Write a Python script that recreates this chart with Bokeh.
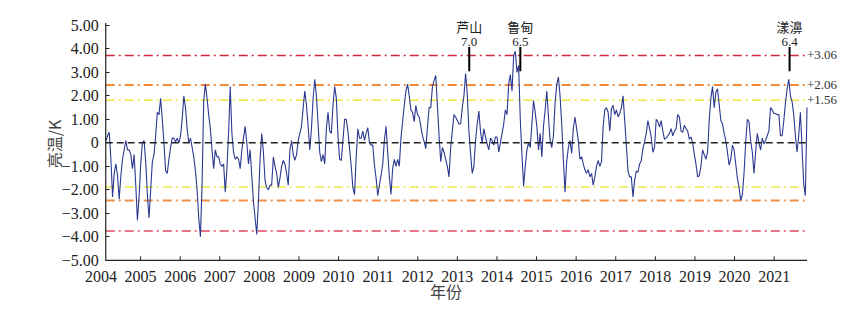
import numpy as np
from bokeh.plotting import figure
from bokeh.models import FixedTicker, Range1d
from bokeh.core.properties import value
from bokeh.embed import file_html
from bokeh.resources import INLINE

# ---------------- data ----------------
# brightness-temperature anomaly (K), semi-monthly samples
bt_2004_2008 = [
    0.1, 0.3, 0.45, -0.7, -2.3, -1.3, -0.9, -1.4, -2.4, -1.4,
    -0.7, -0.3, 0.1, -0.3, -0.3, -0.5, -1.1, -0.5, -1.8, -3.3,
    -2.3, -0.9, 0.0, 0.1, -0.8, -2.2, -3.2, -2.0, -0.8, -0.5,
    0.3, 1.3, 1.2, 1.9, 1.0, 0.0, -1.2, -1.3, -0.7, -0.2,
    0.2, 0.2, 0.05, 0.2, 0.0, 0.3, 1.0, 2.0, 1.5, 0.6,
    0.0, 0.2, -0.2, -0.6, -1.2, -2.0, -3.2, -4.0, -1.8, 1.8,
    2.5, 1.9, 1.2, 0.6, -0.3, -1.1, -0.3, -0.6, -0.6, -0.9,
    -1.0, -0.9, -2.1, -1.1, 0.4, 2.4, 0.4, -0.4, -0.7, -0.6,
    -0.7, -1.1, -0.3, 0.2, 0.7, 0.0, -0.9, -0.3, -1.4, -2.5,
    -3.2, -3.9, -2.5, -0.7, 0.4, -0.4, -1.6, -1.9, -2.0, -1.8,
    -1.8, -0.6, -1.0, -1.3, -1.9, -1.5,
]
bt_2008_2015 = [
    -1.0, -0.75, -0.9, -1.3, -1.8, -0.3, 0.1, -0.5, -0.75, -0.5,
    0.1, 0.4, 0.7, 1.5, 2.2, 1.6, 0.7, -0.3, 0.6, 1.9,
    2.7, 2.0, 0.8, -0.4, -0.8, -0.5, -0.9, 0.6, 1.3, 0.5,
    0.4, 1.6, 2.4, 1.9, 0.3, -0.7, -0.75, 0.1, 1.0, 1.0,
    0.5, -0.25, -1.0, -1.9, -2.2, -0.6, 0.6, 0.2, 0.2, 0.5,
    0.1, 0.4, 0.65, 0.0, -0.1, -0.1, -0.95, -1.5, -2.25, -1.8,
    -1.4, -0.9, 0.1, 0.7, -0.4, -1.45, -2.2, -1.1, -0.7, -1.0,
    -0.7, -1.0, 0.2, 0.9, 1.6, 2.2, 2.5, 2.0, 1.4, 1.3,
    0.9, 1.6, 1.2, 1.1, 0.7, 0.3, 0.05, -0.25, 0.67, 1.5,
    1.5, 2.4, 2.66, 2.87, 1.6, 0.3, -0.8, -0.2, -0.4, -0.7,
    -1.0, -1.45, -0.2, 0.5, 1.2, 1.1, 0.95, 0.8, 0.8, 1.5,
    2.0, 2.95, 2.1, 0.5, -0.45, -1.3, -1.0, 0.1, 0.8, 1.35,
    0.5, 0.0, 0.6, 0.25, -0.05, -0.3, 0.2, 0.1, -0.1, 0.25,
    0.25, -0.4, 0.0, 0.4, 0.8, 1.4, 1.2, 2.5, 2.9, 2.2,
    3.7, 3.9, 3.0, 3.3, 1.0, -0.5, -1.85, -1.0, -0.3, 0.0,
    -0.2, 0.8, 1.8, 1.3, 0.7, -0.3, 0.4, -0.6, 0.7, 1.4,
    2.2, 1.1, 0.1, -0.2, 0.3, 1.7, 2.5, 2.8, 2.0,
]
bt_2015_2021 = [
    0.8, -0.75, -2.1, -0.8, -0.2, 0.1, -0.45, 0.6, 1.1, 0.6,
    0.1, -0.7, -0.6, -0.9, -1.15, -1.3, -1.15, -1.45, -1.3, -1.8,
    -1.45, -1.0, -0.75, -1.0, -0.8, 0.7, 1.4, 1.5, 1.3, 0.5,
    1.45, 1.6, 1.2, 1.4, 1.1, 1.25, 1.5, 2.0, 0.95, -0.1,
    -1.2, -1.45, -1.45, -2.3, -1.6, -1.2, -1.25, -0.9, -0.75, -0.25,
    0.05, 0.4, 0.95, 0.6, 0.25, -0.4, -0.2, 1.0, 0.9, 0.67,
    0.95, 0.5, 0.15, 0.2, 0.3, 0.4, 0.6, 0.3, 0.5, 0.6,
    1.2, 1.1, 0.5, 0.45, 0.75, 0.6, 0.5, 0.15, 0.25, 0.0,
    -0.5, -0.9, -1.45, -1.4, -1.0, -0.3, -0.5, -0.7, -0.4, 0.95,
    1.9, 2.4, 1.5, 2.15, 2.3, 1.65, 0.95, 0.8, 0.4, 0.1,
    -0.4, -0.95, -0.7, -0.1, -0.3, -0.9, -1.5, -1.9, -2.45, -2.2,
    -1.3, 0.0, 1.0, 0.9, 0.1, -0.4, -1.3, -0.4, 0.4, 0.0,
    -0.3, 0.2, -0.05, 0.1, 0.3, 0.5, 1.5, 1.4, 1.25, 1.25,
    1.2, 1.2, 0.3, 0.3, 0.95, 1.7, 2.3, 2.7, 2.0, 1.75,
    1.2, 0.3, -0.4, 0.3, 1.3, -0.2, -1.75, -2.25, 1.5,
]
bt_values = bt_2004_2008 + bt_2008_2015 + bt_2015_2021
first_date, last_date = 2004.125, 2021.83
bt_dates = np.linspace(first_date, last_date, len(bt_values))

year_ticks = list(range(2004, 2022))
y_ticks = [-5, -4, -3, -2, -1, 0, 1, 2, 3, 4, 5]
y_tick_labels = ["−5.00", "−4.00", "−3.00", "−2.00", "−1.00", "0",
                 "1.00", "2.00", "3.00", "4.00", "5.00"]

level_names = ["+3.06", "+2.06", "+1.56"]
level_upper = [3.72, 2.46, 1.81]
level_lower = [-3.75, -2.46, -1.88]

quake_names = ["芦山", "鲁甸", "漾濞"]
quake_mags = ["7.0", "6.5", "6.4"]
quake_dates = [2013.30, 2014.59, 2021.39]

# axis extent (the drawn axes cover this span)
axis_x0, axis_x1 = 2004.12, 2021.83
axis_y0, axis_y1 = -5.0, 5.1
tick_len = 0.17  # inward tick length in data units (about 4 px)

# ---------------- styles ----------------
SERIF = "Liberation Serif"
CJK = "Noto Sans CJK SC"
level_colors_up = ["#d0283a", "#f08a38", "#ece63a"]
level_colors_lo = ["#de4a60", "#f29048", "#eee848"]
level_widths = [1.5, 2.0, 1.5]
DASHDOT = "9 4 2 4"
AXIS_COLOR = "#222222"

p = figure(frame_width=807, frame_height=249,
           x_range=Range1d(2002.22, 2022.6), y_range=Range1d(-5.35, 5.25),
           output_backend="svg", toolbar_location=None,
           min_border_left=30, min_border_right=8,
           min_border_top=19, min_border_bottom=40)
p.outline_line_color = None
p.xgrid.visible = False
p.ygrid.visible = False

# threshold lines
n = len(level_upper)
p.segment(x0=[axis_x0] * n, x1=[axis_x1] * n, y0=level_upper, y1=level_upper,
          line_color=level_colors_up, line_width=level_widths, line_dash=DASHDOT)
p.segment(x0=[axis_x0] * n, x1=[axis_x1] * n, y0=level_lower, y1=level_lower,
          line_color=level_colors_lo, line_width=level_widths, line_dash=DASHDOT)

# series
p.line(bt_dates, bt_values, line_color="#2b3990", line_width=1.1)

# zero line
p.segment(x0=[axis_x0], x1=[axis_x1], y0=[0], y1=[0],
          line_color=AXIS_COLOR, line_width=1.5, line_dash="7 4")

# level labels on the right
p.text(x=[axis_x1] * n, y=level_upper, text=level_names, text_align="left",
       text_baseline="middle", text_font=value(SERIF),
       text_font_size="13px", text_color="#333333")

# earthquake markers
mark_lo, mark_hi = 3.05, 4.08
nq = len(quake_dates)
p.segment(x0=quake_dates, y0=[mark_lo] * nq, x1=quake_dates, y1=[mark_hi] * nq,
          line_color="black", line_width=2)
p.text(x=quake_dates, y=[4.96] * nq, text=quake_names, text_align="center",
       text_baseline="middle", text_font=value(CJK),
       text_font_size="13px", text_color="#222222")
p.text(x=quake_dates, y=[4.29] * nq, text=quake_mags, text_align="center",
       text_baseline="middle", text_font=value(SERIF),
       text_font_size="13px", text_color="#222222")

# axis lines and x ticks over the data span only
p.segment(x0=[axis_x0, axis_x0], x1=[axis_x1, axis_x0],
          y0=[axis_y0, axis_y0], y1=[axis_y0, axis_y1],
          line_color=AXIS_COLOR, line_width=1.2)
x_marked = [t for t in year_ticks if t > axis_x0]
p.segment(x0=x_marked, x1=x_marked, y0=[axis_y0] * len(x_marked),
          y1=[axis_y0 + tick_len] * len(x_marked), line_color=AXIS_COLOR, line_width=1)

# axes (labels)
for ax in (p.xaxis[0], p.yaxis[0]):
    ax.minor_tick_line_color = None
    ax.axis_line_color = None
    ax.major_label_text_font = SERIF
    ax.major_label_text_font_size = "16px"
    ax.major_label_text_color = "#222222"
    ax.axis_label_text_font = CJK
    ax.axis_label_text_font_size = "16px"
    ax.axis_label_text_font_style = "normal"
    ax.axis_label_text_color = "#444444"

p.xaxis.ticker = FixedTicker(ticks=year_ticks)
p.xaxis.major_tick_line_color = None
p.xaxis.major_tick_in = 0
p.xaxis.major_tick_out = 0
p.xaxis.major_label_standoff = 2
# the title sits a little right of the frame centre, as in the original
p.xaxis.axis_label = "\u3000\u2002年份"
p.xaxis.axis_label_standoff = -6

p.yaxis.ticker = FixedTicker(ticks=y_ticks)
p.yaxis.fixed_location = axis_x0
p.yaxis.major_tick_in = 4
p.yaxis.major_tick_out = 0
p.yaxis.major_tick_line_color = AXIS_COLOR
p.yaxis.major_label_overrides = {t: s for t, s in zip(y_ticks, y_tick_labels)}
p.yaxis.major_label_standoff = 7
p.yaxis.axis_label = "亮温/K"
p.yaxis.axis_label_standoff = -8

open("out.html", "w").write(file_html(p, INLINE))
